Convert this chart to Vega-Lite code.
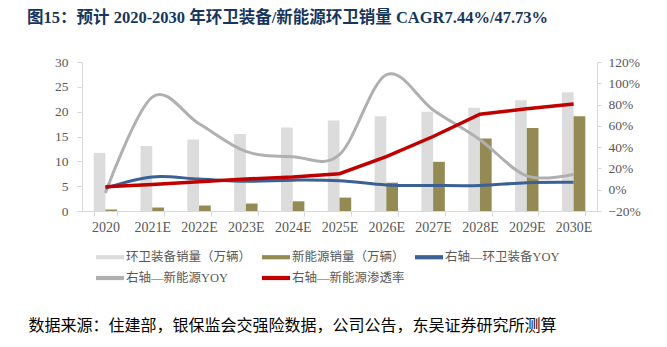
{
  "$schema": "https://vega.github.io/schema/vega-lite/v6.json",
  "width": 515,
  "height": 149,
  "autosize": {"type": "none"},
  "padding": {"left": 82, "top": 62, "right": 70, "bottom": 136},
  "background": "white",
  "title": {
    "text": "图15：预计 2020-2030 年环卫装备/新能源环卫销量 CAGR7.44%/47.73%",
    "anchor": "start",
    "frame": "group",
    "dx": -55,
    "dy": -25,
    "font": "Liberation Serif, Noto Sans CJK SC",
    "fontSize": 16.5,
    "fontWeight": "bold",
    "color": "#17365D"
  },
  "datasets": {
    "bars": [
      {"year": "2020", "series": "环卫装备销量（万辆）", "value": 11.7},
      {"year": "2021E", "series": "环卫装备销量（万辆）", "value": 13.1},
      {"year": "2022E", "series": "环卫装备销量（万辆）", "value": 14.4},
      {"year": "2023E", "series": "环卫装备销量（万辆）", "value": 15.5},
      {"year": "2024E", "series": "环卫装备销量（万辆）", "value": 16.8},
      {"year": "2025E", "series": "环卫装备销量（万辆）", "value": 18.2},
      {"year": "2026E", "series": "环卫装备销量（万辆）", "value": 19.1},
      {"year": "2027E", "series": "环卫装备销量（万辆）", "value": 20.0},
      {"year": "2028E", "series": "环卫装备销量（万辆）", "value": 20.8},
      {"year": "2029E", "series": "环卫装备销量（万辆）", "value": 22.3},
      {"year": "2030E", "series": "环卫装备销量（万辆）", "value": 23.9},
      {"year": "2020", "series": "新能源销量（万辆）", "value": 0.3},
      {"year": "2021E", "series": "新能源销量（万辆）", "value": 0.7},
      {"year": "2022E", "series": "新能源销量（万辆）", "value": 1.1},
      {"year": "2023E", "series": "新能源销量（万辆）", "value": 1.5},
      {"year": "2024E", "series": "新能源销量（万辆）", "value": 1.95},
      {"year": "2025E", "series": "新能源销量（万辆）", "value": 2.7},
      {"year": "2026E", "series": "新能源销量（万辆）", "value": 5.7},
      {"year": "2027E", "series": "新能源销量（万辆）", "value": 9.9},
      {"year": "2028E", "series": "新能源销量（万辆）", "value": 14.6},
      {"year": "2029E", "series": "新能源销量（万辆）", "value": 16.7},
      {"year": "2030E", "series": "新能源销量（万辆）", "value": 19.1}
    ],
    "lines": [
      {"year": "2020", "series": "右轴—新能源YOY", "value": -0.03},
      {"year": "2021E", "series": "右轴—新能源YOY", "value": 0.87},
      {"year": "2022E", "series": "右轴—新能源YOY", "value": 0.62},
      {"year": "2023E", "series": "右轴—新能源YOY", "value": 0.36},
      {"year": "2024E", "series": "右轴—新能源YOY", "value": 0.31},
      {"year": "2025E", "series": "右轴—新能源YOY", "value": 0.33},
      {"year": "2026E", "series": "右轴—新能源YOY", "value": 1.08},
      {"year": "2027E", "series": "右轴—新能源YOY", "value": 0.75},
      {"year": "2028E", "series": "右轴—新能源YOY", "value": 0.47},
      {"year": "2029E", "series": "右轴—新能源YOY", "value": 0.13},
      {"year": "2030E", "series": "右轴—新能源YOY", "value": 0.145},
      {"year": "2020", "series": "右轴—环卫装备YOY", "value": 0.015},
      {"year": "2021E", "series": "右轴—环卫装备YOY", "value": 0.12},
      {"year": "2022E", "series": "右轴—环卫装备YOY", "value": 0.10},
      {"year": "2023E", "series": "右轴—环卫装备YOY", "value": 0.08},
      {"year": "2024E", "series": "右轴—环卫装备YOY", "value": 0.09},
      {"year": "2025E", "series": "右轴—环卫装备YOY", "value": 0.085},
      {"year": "2026E", "series": "右轴—环卫装备YOY", "value": 0.045},
      {"year": "2027E", "series": "右轴—环卫装备YOY", "value": 0.04},
      {"year": "2028E", "series": "右轴—环卫装备YOY", "value": 0.04},
      {"year": "2029E", "series": "右轴—环卫装备YOY", "value": 0.066},
      {"year": "2030E", "series": "右轴—环卫装备YOY", "value": 0.069},
      {"year": "2020", "series": "右轴—新能源渗透率", "value": 0.028},
      {"year": "2021E", "series": "右轴—新能源渗透率", "value": 0.05},
      {"year": "2022E", "series": "右轴—新能源渗透率", "value": 0.075},
      {"year": "2023E", "series": "右轴—新能源渗透率", "value": 0.10},
      {"year": "2024E", "series": "右轴—新能源渗透率", "value": 0.12},
      {"year": "2025E", "series": "右轴—新能源渗透率", "value": 0.15},
      {"year": "2026E", "series": "右轴—新能源渗透率", "value": 0.31},
      {"year": "2027E", "series": "右轴—新能源渗透率", "value": 0.50},
      {"year": "2028E", "series": "右轴—新能源渗透率", "value": 0.71},
      {"year": "2029E", "series": "右轴—新能源渗透率", "value": 0.76},
      {"year": "2030E", "series": "右轴—新能源渗透率", "value": 0.805}
    ]
  },
  "encoding": {
    "x": {
      "field": "year",
      "type": "nominal",
      "sort": ["2020", "2021E", "2022E", "2023E", "2024E", "2025E", "2026E", "2027E", "2028E", "2029E", "2030E"],
      "scale": {"paddingInner": 0.5, "paddingOuter": 0.25},
      "axis": {
        "title": "数据来源：住建部，银保监会交强险数据，公司公告，东吴证券研究所测算",
        "titleX": -54,
        "titleY": 114,
        "titleAnchor": null,
        "titleAlign": "left",
        "titleBaseline": "middle",
        "titleFont": "Noto Sans CJK SC",
        "titleFontSize": 16,
        "titleFontWeight": "normal",
        "titleColor": "#000000",
        "labelAngle": 0,
        "labelFontSize": 14,
        "labelPadding": 4,
        "labelOverlap": false,
        "tickBand": "extent",
        "tickSize": 5
      }
    },
    "color": {
      "field": "series",
      "type": "nominal",
      "scale": {
        "domain": ["环卫装备销量（万辆）", "新能源销量（万辆）", "右轴—环卫装备YOY", "右轴—新能源YOY", "右轴—新能源渗透率"],
        "range": ["#DCDCDC", "#948A54", "#3A6095", "#B0B0B0", "#C00000"]
      },
      "legend": {
        "title": null,
        "orient": "none",
        "legendX": 14,
        "legendY": 181,
        "direction": "horizontal",
        "columns": 3,
        "padding": 0,
        "symbolType": "M-1,-0.15H1V0.15H-1Z",
        "symbolSize": 784,
        "symbolStrokeWidth": 0,
        "labelFont": "Liberation Serif, Noto Sans CJK SC",
        "labelFontSize": 12.5,
        "labelColor": "#595959",
        "labelOffset": 2,
        "columnPadding": 10,
        "rowPadding": 0,
        "encode": {"symbols": {"update": {"fill": {"scale": "color", "field": "value"}, "strokeWidth": {"value": 0}}}}
      }
    }
  },
  "layer": [
    {
      "data": {"name": "bars"},
      "mark": {"type": "bar"},
      "encoding": {
        "xOffset": {"field": "series", "type": "nominal", "sort": ["环卫装备销量（万辆）", "新能源销量（万辆）"], "scale": {"paddingInner": 0, "paddingOuter": 0}},
        "y": {
          "field": "value",
          "type": "quantitative",
          "scale": {"domain": [0, 30]},
          "axis": {"orient": "left", "title": null, "values": [0, 5, 10, 15, 20, 25, 30], "labelPadding": 9, "tickSize": 5, "labelFontSize": 13.5, "labelOverlap": false}
        }
      }
    },
    {
      "data": {"name": "lines"},
      "encoding": {
        "y": {
          "field": "value",
          "type": "quantitative",
          "scale": {"domain": [-0.2, 1.2]},
          "axis": {"orient": "right", "title": null, "format": ".0%", "values": [-0.2, 0, 0.2, 0.4, 0.6, 0.8, 1, 1.2], "labelPadding": 7, "tickSize": 4, "labelFontSize": 13.5, "labelOverlap": false}
        }
      },
      "layer": [
        {
          "transform": [{"filter": "datum.series !== '右轴—新能源渗透率'"}],
          "mark": {"type": "line", "interpolate": "cardinal", "tension": 0, "strokeWidth": 3}
        },
        {
          "transform": [{"filter": "datum.series === '右轴—新能源渗透率'"}],
          "mark": {"type": "line", "strokeWidth": 3.5}
        }
      ]
    }
  ],
  "resolve": {"scale": {"y": "independent"}},
  "config": {
    "view": {"stroke": null},
    "axis": {
      "grid": false,
      "domainColor": "#D9D9D9",
      "tickColor": "#D9D9D9",
      "labelColor": "#595959",
      "labelFont": "Liberation Serif"
    }
  }
}
